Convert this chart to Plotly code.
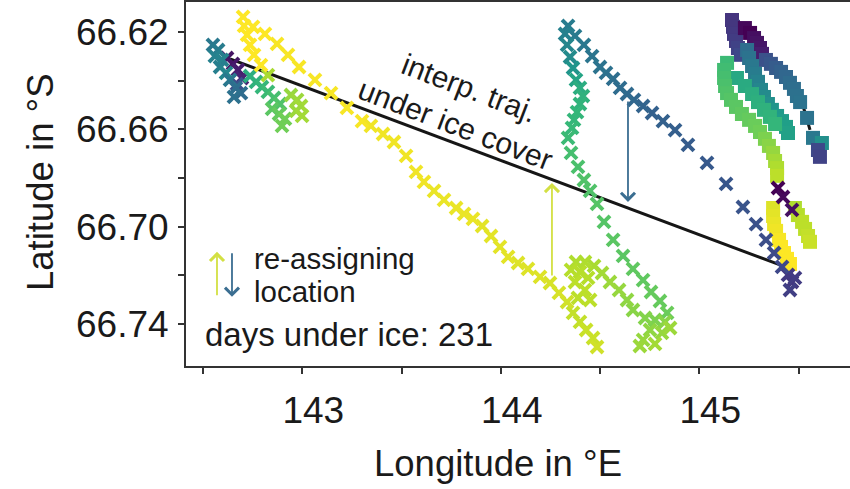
import plotly.graph_objects as go

# ---------------- data ----------------
# left cluster (crosses)
l_lon = [142.621, 142.651, 142.676, 142.696, 142.671,
         142.550, 142.576, 142.560, 142.596, 142.586, 142.616, 142.636, 142.666, 142.691, 142.656,
         142.737, 142.767, 142.797, 142.827, 142.858, 142.888, 142.848, 142.883, 142.913, 142.898,
         142.943, 142.974, 142.994, 142.969, 142.999, 142.827]
l_lat = [66.6307, 66.6331, 66.6356, 66.6389, 66.6414,
         66.6253, 66.6274, 66.6299, 66.6315, 66.6344, 66.6368, 66.6397, 66.6430, 66.6451, 66.6467,
         66.6381, 66.6405, 66.6426, 66.6446, 66.6471, 66.6496, 66.6516, 66.6537, 66.6557, 66.6586,
         66.6459, 66.6479, 66.6504, 66.6524, 66.6545, 66.6377]
l_day = [0.05, 0.06, 0.08, 0.10, 0.25,
         0.40, 0.42, 0.44, 0.45, 0.43, 0.46, 0.40, 0.36, 0.35, 0.37,
         0.62, 0.64, 0.66, 0.68, 0.70, 0.72, 0.74, 0.76, 0.78, 0.78,
         0.84, 0.85, 0.86, 0.85, 0.86, 0.87]

# main track (crosses)
r_lon = [145.397, 145.422, 145.467,
         145.467, 145.447, 145.482, 145.457,
         145.417, 145.377, 145.336, 145.286, 145.220, 145.135, 145.039, 144.943, 144.878, 144.817,
         144.762, 144.717, 144.671, 144.636, 144.601, 144.566, 144.530, 144.500, 144.460, 144.419,
         144.374, 144.339,
         144.324, 144.334, 144.349, 144.364, 144.379, 144.399, 144.414, 144.399, 144.384, 144.369,
         144.359, 144.339, 144.354, 144.389, 144.419, 144.450, 144.485, 144.520, 144.566, 144.616,
         144.666, 144.717, 144.757, 144.802, 144.838,
         144.777, 144.727, 144.827, 144.752, 144.812, 144.717, 144.853, 144.701, 144.777,
         144.666, 144.636, 144.596, 144.550, 144.510, 144.470,
         144.424, 144.379, 144.354, 144.399, 144.440, 144.374, 144.424, 144.389, 144.450,
         144.364, 144.399, 144.430, 144.465, 144.485,
         144.334, 144.293, 144.248, 144.198, 144.137, 144.087, 144.037, 143.996, 143.951, 143.906,
         143.860, 143.815, 143.775, 143.714, 143.664, 143.613, 143.573, 143.523, 143.462, 143.407,
         143.346, 143.301, 143.225, 143.145, 143.064, 142.984, 142.928, 142.873, 142.812, 142.752,
         142.702,
         142.707, 142.722, 142.737, 142.757, 142.792]
r_lat = [66.6841, 66.6878, 66.6931,
         66.7227, 66.7198, 66.7210, 66.7260,
         66.7165, 66.7108, 66.7054, 66.6989, 66.6919, 66.6824, 66.6738, 66.6664, 66.6603, 66.6566,
         66.6533, 66.6504, 66.6479, 66.6455, 66.6430, 66.6393, 66.6368, 66.6344, 66.6299, 66.6253,
         66.6216, 66.6175,
         66.6208, 66.6253, 66.6303, 66.6348, 66.6397, 66.6430, 66.6463, 66.6496, 66.6529, 66.6561,
         66.6594, 66.6635, 66.6697, 66.6754, 66.6808, 66.6853, 66.6906, 66.6980, 66.7054, 66.7120,
         66.7173, 66.7219, 66.7268, 66.7305, 66.7354,
         66.7383, 66.7375, 66.7391, 66.7424, 66.7436, 66.7465, 66.7416, 66.7490, 66.7481,
         66.7342, 66.7301, 66.7260, 66.7227, 66.7190, 66.7161,
         66.7145, 66.7145, 66.7177, 66.7186, 66.7210, 66.7227, 66.7260, 66.7292, 66.7301,
         66.7354, 66.7391, 66.7424, 66.7457, 66.7494,
         66.7309, 66.7272, 66.7231, 66.7206, 66.7173, 66.7149, 66.7124, 66.7083, 66.7038, 66.6997,
         66.6968, 66.6947, 66.6923, 66.6890, 66.6853, 66.6816, 66.6775, 66.6709, 66.6652, 66.6619,
         66.6586, 66.6566, 66.6512, 66.6451, 66.6397, 66.6344, 66.6294, 66.6249, 66.6208, 66.6179,
         66.6138,
         66.6175, 66.6212, 66.6253, 66.6294, 66.6336]
r_day = [0.00, 0.02, 0.04,
         0.16, 0.17, 0.18, 0.19,
         0.22, 0.23, 0.24, 0.25, 0.26, 0.27, 0.28, 0.29, 0.30, 0.31,
         0.31, 0.32, 0.33, 0.34, 0.35, 0.36, 0.37, 0.38, 0.39, 0.40,
         0.41, 0.42,
         0.44, 0.46, 0.48, 0.52, 0.58, 0.62, 0.64, 0.65, 0.66, 0.66,
         0.67, 0.68, 0.70, 0.71, 0.72, 0.72, 0.73, 0.73, 0.74, 0.74,
         0.75, 0.75, 0.76, 0.76, 0.77,
         0.80, 0.81, 0.82, 0.83, 0.84, 0.84, 0.85, 0.85, 0.86,
         0.82, 0.83, 0.84, 0.85, 0.86, 0.87,
         0.88, 0.88, 0.89, 0.89, 0.89, 0.90, 0.90, 0.90, 0.90,
         0.91, 0.91, 0.92, 0.92, 0.93,
         0.93, 0.94, 0.94, 0.95, 0.95, 0.95, 0.96, 0.96, 0.96, 0.96,
         0.97, 0.97, 0.97, 0.97, 0.97, 0.98, 0.98, 0.98, 0.98, 0.98,
         0.98, 0.99, 0.99, 0.99, 0.99, 0.99, 0.99, 0.99, 1.00, 1.00,
         1.00,
         1.00, 1.00, 1.00, 1.00, 1.00]

# second animal (squares)
s_lon = [145.165, 145.170, 145.175, 145.185, 145.195, 145.210,
         145.230, 145.256, 145.276, 145.291, 145.306, 145.316,
         145.336, 145.361, 145.387, 145.412, 145.437, 145.457, 145.477, 145.492, 145.508,
         145.543, 145.573, 145.618, 145.598, 145.608,
         145.241, 145.251, 145.266, 145.281, 145.296, 145.311, 145.326, 145.346, 145.366, 145.392,
         145.417, 145.437, 145.447,
         145.190, 145.230, 145.266, 145.296, 145.326, 145.356, 145.382,
         145.140, 145.125, 145.125, 145.130, 145.140, 145.160, 145.185, 145.215, 145.251, 145.281,
         145.306, 145.331, 145.351, 145.372, 145.382, 145.392, 145.392,
         145.482, 145.497, 145.518, 145.533, 145.548, 145.558,
         145.372, 145.372, 145.377, 145.387, 145.402, 145.412, 145.427, 145.442, 145.457]
s_lat = [66.6151, 66.6179, 66.6208, 66.6237, 66.6266, 66.6294,
         66.6184, 66.6204, 66.6225, 66.6245, 66.6266, 66.6290,
         66.6315, 66.6331, 66.6348, 66.6364, 66.6385, 66.6409, 66.6434, 66.6463, 66.6488,
         66.6553, 66.6635, 66.6656, 66.6685, 66.6713,
         66.6274, 66.6307, 66.6340, 66.6372, 66.6405, 66.6438, 66.6467, 66.6496, 66.6520, 66.6545,
         66.6566, 66.6590, 66.6615,
         66.6389, 66.6422, 66.6455, 66.6488, 66.6520, 66.6549, 66.6578,
         66.6327, 66.6356, 66.6389, 66.6422, 66.6451, 66.6479, 66.6508, 66.6537, 66.6561, 66.6586,
         66.6611, 66.6639, 66.6668, 66.6697, 66.6730, 66.6759, 66.6791,
         66.6923, 66.6952, 66.6980, 66.7009, 66.7038, 66.7062,
         66.6923, 66.6956, 66.6989, 66.7017, 66.7054, 66.7083, 66.7108, 66.7132, 66.7153]
s_day = [0.15, 0.16, 0.17, 0.18, 0.20, 0.22,
         0.02, 0.00, 0.04, 0.05, 0.06, 0.08,
         0.25, 0.27, 0.29, 0.31, 0.33, 0.35, 0.36, 0.37, 0.38,
         0.38, 0.40, 0.50, 0.22, 0.20,
         0.36, 0.38, 0.40, 0.42, 0.44, 0.46, 0.48, 0.50, 0.52, 0.54,
         0.55, 0.56, 0.57,
         0.60, 0.61, 0.62, 0.63, 0.64, 0.65, 0.66,
         0.68, 0.69, 0.70, 0.71, 0.72, 0.73, 0.74, 0.75, 0.76, 0.77,
         0.78, 0.80, 0.82, 0.84, 0.86, 0.88, 0.90,
         0.88, 0.89, 0.90, 0.90, 0.91, 0.92,
         0.95, 0.96, 0.97, 0.98, 0.99, 1.00, 1.00, 1.00, 1.00]

# interpolated trajectories under ice
interp_lon = [142.636, 145.407]
interp_lat = [66.6311, 66.7157]
interp2_lon = [145.523, 145.558]
interp2_lat = [66.6504, 66.6602]

# re-assignment arrows (tail -> head)
arrow_up = dict(lon=144.258, lat_from=66.7206, lat_to=66.6820)
arrow_down = dict(lon=144.641, lat_from=66.6479, lat_to=66.6898)

x_ticks = [142.5, 143.0, 143.5, 144.0, 144.5, 145.0, 145.5]
x_ticktext = ["", "143", "", "144", "", "145", ""]
y_ticks = [66.62, 66.64, 66.66, 66.68, 66.70, 66.72, 66.74]
y_ticktext = ["66.62", "", "66.66", "", "66.70", "", "66.74"]
days_under_ice = 231

# ---------------- figure ----------------
FONT = "Liberation Sans, Arial, Helvetica, sans-serif"
TXT = "#1a1a1a"
YEL = "#d3e043"
BLU = "#3b6e91"

fig = go.Figure()
fig.add_trace(go.Scatter(x=interp_lon, y=interp_lat, mode="lines",
                         line=dict(color="#161616", width=3), hoverinfo="skip"))
fig.add_trace(go.Scatter(x=interp2_lon, y=interp2_lat, mode="lines",
                         line=dict(color="#161616", width=3), hoverinfo="skip"))

cross = dict(symbol="x-thin-open", size=12, line=dict(width=4),
             colorscale="Viridis", cmin=0, cmax=1)
fig.add_trace(go.Scatter(x=l_lon, y=l_lat, mode="markers",
                         marker=dict(color=l_day, **cross)))
fig.add_trace(go.Scatter(x=s_lon, y=s_lat, mode="markers",
                         marker=dict(symbol="square", size=14, color=s_day,
                                     colorscale="Viridis", cmin=0, cmax=1,
                                     line=dict(width=0))))
fig.add_trace(go.Scatter(x=r_lon, y=r_lat, mode="markers",
                         marker=dict(color=r_day, **cross)))

ann = []
for a, col in [(arrow_up, YEL), (arrow_down, BLU)]:
    ann.append(dict(x=a["lon"], y=a["lat_to"], ax=a["lon"], ay=a["lat_from"],
                    xref="x", yref="y", axref="x", ayref="y", text="",
                    showarrow=True, arrowhead=4, arrowsize=1.5, arrowwidth=1.8,
                    arrowcolor=col, standoff=0, startstandoff=0))
# legend arrows
ann.append(dict(x=142.5705, y=66.7103, ax=142.5705, ay=66.7288, xref="x", yref="y",
                axref="x", ayref="y", text="", showarrow=True, arrowhead=4,
                arrowsize=1.5, arrowwidth=1.8, arrowcolor=YEL, standoff=0, startstandoff=0))
ann.append(dict(x=142.6461, y=66.7288, ax=142.6461, ay=66.7103, xref="x", yref="y",
                axref="x", ayref="y", text="", showarrow=True, arrowhead=4,
                arrowsize=1.5, arrowwidth=1.8, arrowcolor=BLU, standoff=0, startstandoff=0))

ann += [
    dict(x=143.805, y=66.6504, xref="x", yref="y", text="interp. traj.<br>under ice cover",
         textangle=21, showarrow=False, font=dict(size=30, color=TXT, family=FONT)),
    dict(x=0.0994, y=0.2967, xref="paper", yref="paper", xanchor="left", yanchor="middle",
         text="re-assigning", showarrow=False, font=dict(size=29.5, color=TXT, family=FONT)),
    dict(x=0.0994, y=0.206, xref="paper", yref="paper", xanchor="left", yanchor="middle",
         text="location", showarrow=False, font=dict(size=29.5, color=TXT, family=FONT)),
    dict(x=0.0256, y=0.0852, xref="paper", yref="paper", xanchor="left", yanchor="middle",
         text=f"days under ice: {days_under_ice}", showarrow=False,
         font=dict(size=33, color=TXT, family=FONT)),
    dict(x=-0.2184, y=0.5055, xref="paper", yref="paper", xanchor="center", yanchor="middle",
         text="Latitude in °S", textangle=-90, showarrow=False,
         font=dict(size=36.5, color=TXT, family=FONT)),
    dict(x=0.4699, y=-0.2665, xref="paper", yref="paper", xanchor="center", yanchor="middle",
         text="Longitude in °E", showarrow=False, font=dict(size=36.5, color=TXT, family=FONT)),
]

fig.update_layout(
    width=850, height=489,
    margin=dict(l=186, r=0, t=2, b=123),
    plot_bgcolor="white", paper_bgcolor="white",
    showlegend=False, template=None,
    annotations=ann,
    font=dict(family=FONT, color=TXT),
)
fig.update_xaxes(range=[142.4144, 145.7594], tickvals=x_ticks, ticktext=x_ticktext,
                 ticks="outside", ticklen=6, tickwidth=1.5, tickcolor="#333",
                 showline=True, linecolor="#333", linewidth=2, mirror=True,
                 showgrid=False, zeroline=False, ticklabelshift=11, ticklabelstandoff=5,
                 tickfont=dict(size=37, color=TXT, family=FONT))
fig.update_yaxes(range=[66.7572, 66.6077], tickvals=y_ticks, ticktext=y_ticktext,
                 ticks="outside", ticklen=6, tickwidth=1.5, tickcolor="#333",
                 showline=True, linecolor="#333", linewidth=2, mirror=False,
                 showgrid=False, zeroline=False, ticklabelstandoff=2,
                 tickfont=dict(size=37, color=TXT, family=FONT))

fig.write_html("out.html", config={"displayModeBar": False},
               post_script="document.body.style.margin='0px';")
